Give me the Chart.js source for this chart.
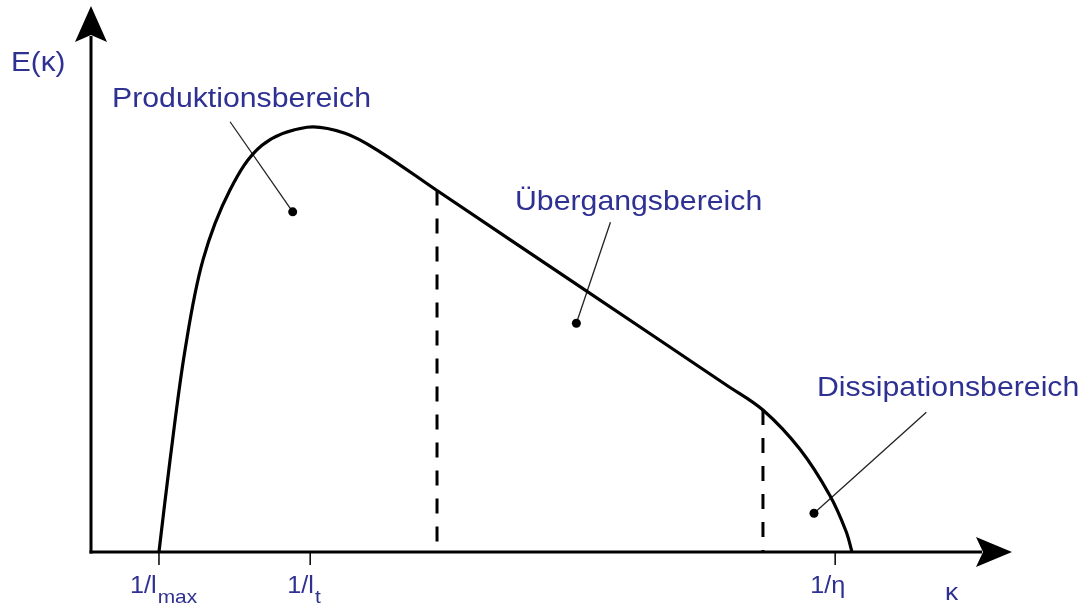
<!DOCTYPE html>
<html>
<head>
<meta charset="utf-8">
<script src="https://cdn.jsdelivr.net/npm/chart.js@4/dist/chart.umd.min.js"></script>
<style>
  html, body { margin: 0; padding: 0; background: #ffffff; }
  #c { display: block; }
</style>
</head>
<body>
<canvas id="c" width="1091" height="608"></canvas>
<script>
// ---- data (schematic units: kappa 0..100, E 0..100) ----
const kappa  = [7.38, 8.58, 10.21, 12.16, 15.09, 18.57, 23.45, 27.58, 31.38, 37.57, 53.09, 69.06, 72.96, 76.98, 80.24, 81.98, 82.63];
const energy = [0, 16.8, 37.0, 53.5, 66.3, 74.5, 77.8, 76.7, 73.3, 66.2, 48.6, 30.5, 26.0, 18.8, 10.3, 3.8, 0];

const boundaryKappa = [37.57, 72.96];
const boundaryE     = [66.2, 26.0];

const tickValues = [7.38, 23.8, 80.8];
const tickMain   = ['1/l', '1/l', '1/\u03b7'];
const tickSub    = ['max', 't', ''];

const axisYLabel = 'E(\u03ba)';
const axisXLabel = '\u03ba';

const regionLabels = ['Produktionsbereich', '\u00dcbergangsbereich', 'Dissipationsbereich'];
const regionDotK   = [21.9, 52.7, 78.5];
const regionDotE   = [62.3, 41.9, 7.1];
const leaderK      = [15.1, 56.4, 90.7];
const leaderE      = [78.8, 60.4, 25.6];

// ---- styling ----
const BLUE = '#2e3192';
const SX = 1.1; // horizontal text stretch seen in the reference
const FONT = '"Liberation Sans", Arial, sans-serif';

function stretchedText(ctx, text, x, y, size) {
  ctx.save();
  ctx.font = size + 'px ' + FONT;
  ctx.translate(x, y);
  ctx.scale(SX, 1);
  ctx.fillText(text, 0, 0);
  const w = ctx.measureText(text).width * SX;
  ctx.restore();
  return w;
}

const datasets = [];
datasets.push({
  label: 'E',
  data: kappa.map((k, i) => ({ x: k, y: energy[i] })),
  showLine: true,
  borderColor: '#000', borderWidth: 3.2,
  pointRadius: 0, tension: 0.35,
  clip: false, order: 1
});
boundaryKappa.forEach((k, i) => {
  datasets.push({
    label: 'b' + i,
    data: [{ x: k, y: boundaryE[i] }, { x: k, y: 0 }],
    showLine: true, borderColor: '#000', borderWidth: 3,
    borderDash: [15, 13], pointRadius: 0, clip: false, order: 2
  });
});
regionLabels.forEach((r, i) => {
  datasets.push({
    label: 'leader' + i,
    data: [{ x: leaderK[i], y: leaderE[i] }, { x: regionDotK[i], y: regionDotE[i] }],
    showLine: true, borderColor: '#222', borderWidth: 1.3,
    pointRadius: 0, clip: false, order: 3
  });
});
datasets.push({
  label: 'dots',
  data: regionDotK.map((k, i) => ({ x: k, y: regionDotE[i] })),
  showLine: false, pointRadius: 4.5, pointBackgroundColor: '#000',
  pointBorderWidth: 0, clip: false, order: 0
});

const axesPlugin = {
  id: 'axesPlugin',
  beforeDatasetsDraw(chart) {
    const ctx = chart.ctx;
    const a = chart.chartArea;
    const xs = chart.scales.x, ys = chart.scales.y;
    const x0 = xs.getPixelForValue(0), y0 = ys.getPixelForValue(0);
    ctx.save();
    ctx.strokeStyle = '#000'; ctx.fillStyle = '#000';
    ctx.lineWidth = 3; ctx.lineCap = 'butt';
    // y axis
    ctx.beginPath(); ctx.moveTo(x0, y0 + 1.5); ctx.lineTo(x0, a.top + 30); ctx.stroke();
    ctx.beginPath();
    ctx.moveTo(x0, a.top); ctx.lineTo(x0 + 16, a.top + 36); ctx.lineTo(x0, a.top + 29);
    ctx.lineTo(x0 - 16, a.top + 36); ctx.closePath(); ctx.fill();
    // x axis
    ctx.beginPath(); ctx.moveTo(x0 - 1.5, y0); ctx.lineTo(a.right - 30, y0); ctx.stroke();
    ctx.beginPath();
    ctx.moveTo(a.right, y0); ctx.lineTo(a.right - 36, y0 - 15); ctx.lineTo(a.right - 29, y0);
    ctx.lineTo(a.right - 36, y0 + 15); ctx.closePath(); ctx.fill();
    // tick marks
    ctx.lineWidth = 1.5;
    tickValues.forEach(v => {
      const px = xs.getPixelForValue(v);
      ctx.beginPath(); ctx.moveTo(px, y0); ctx.lineTo(px, y0 + 13); ctx.stroke();
    });
    ctx.restore();
  },
  afterDatasetsDraw(chart) {
    const ctx = chart.ctx;
    const xs = chart.scales.x;
    ctx.save();
    ctx.fillStyle = BLUE;
    ctx.textBaseline = 'alphabetic';
    ctx.textAlign = 'left';
    const offsets = [-29, -23, -25];
    tickValues.forEach((v, i) => {
      const px = xs.getPixelForValue(v) + offsets[i];
      const w = stretchedText(ctx, tickMain[i], px, 593, 23);
      if (tickSub[i]) stretchedText(ctx, tickSub[i], px + w + 1, 603, 19);
    });
    stretchedText(ctx, axisXLabel, 945, 600, 24);
    stretchedText(ctx, axisYLabel, 11, 71, 27);
    const pos = [[112, 107], [515, 210], [817, 396]];
    regionLabels.forEach((t, i) => stretchedText(ctx, t, pos[i][0], pos[i][1], 27.5));
    ctx.restore();
  }
};

new Chart(document.getElementById('c'), {
  type: 'scatter',
  data: { datasets },
  options: {
    responsive: false,
    animation: false,
    events: [],
    layout: { padding: { left: 91, right: 79, top: 6, bottom: 56 } },
    scales: {
      x: { type: 'linear', min: 0, max: 100, display: false },
      y: { type: 'linear', min: 0, max: 100, display: false }
    },
    plugins: { legend: { display: false }, tooltip: { enabled: false } }
  },
  plugins: [axesPlugin]
});
</script>
</body>
</html>
